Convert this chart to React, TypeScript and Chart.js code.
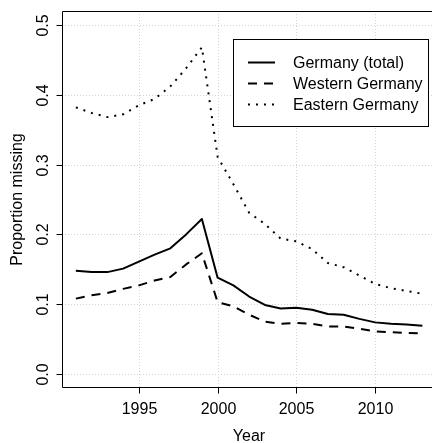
import { useEffect, useRef } from "react";
import { Chart, registerables } from "chart.js";

Chart.register(...registerables);

const years = [
  1991, 1992, 1993, 1994, 1995, 1996, 1997, 1998, 1999, 2000, 2001, 2002,
  2003, 2004, 2005, 2006, 2007, 2008, 2009, 2010, 2011, 2012, 2013,
];
const germanyTotal = [
  0.148, 0.146, 0.146, 0.151, 0.161, 0.171, 0.18, 0.2, 0.222, 0.138, 0.127,
  0.111, 0.099, 0.094, 0.095, 0.092, 0.086, 0.085, 0.079, 0.074, 0.072, 0.071,
  0.069,
];
const westernGermany = [
  0.108, 0.113, 0.116, 0.122, 0.127, 0.134, 0.139, 0.157, 0.173, 0.103, 0.097,
  0.085, 0.075, 0.072, 0.073, 0.072, 0.068, 0.068, 0.065, 0.061, 0.06, 0.059,
  0.058,
];
const easternGermany = [
  0.382, 0.374, 0.368, 0.372, 0.385, 0.394, 0.412, 0.438, 0.468, 0.311, 0.272,
  0.231, 0.215, 0.194, 0.19, 0.179, 0.159, 0.153, 0.141, 0.129, 0.123, 0.119,
  0.115,
];
const seriesNames = ["Germany (total)", "Western Germany", "Eastern Germany"];
const xTicks = [1995, 2000, 2005, 2010];
const yTicks = [0, 0.1, 0.2, 0.3, 0.4, 0.5];
const yTickLabels = ["0.0", "0.1", "0.2", "0.3", "0.4", "0.5"];
const xTitle = "Year";
const yTitle = "Proportion missing";

const FONT = '16px "Liberation Sans", Arial, Helvetica, sans-serif';
const dashes: number[][] = [[], [9, 7], [2, 6]];

const basePlot = {
  id: "basePlot",
  beforeDatasetsDraw(chart: any) {
    const { ctx, chartArea: a, scales } = chart;
    ctx.save();
    ctx.strokeStyle = "#d3d3d3";
    ctx.lineWidth = 1;
    ctx.setLineDash([1, 2]);
    for (const t of xTicks) {
      const px = Math.round(scales.x.getPixelForValue(t)) + 0.5;
      ctx.beginPath();
      ctx.moveTo(px, a.top);
      ctx.lineTo(px, a.bottom);
      ctx.stroke();
    }
    for (const t of yTicks) {
      const py = Math.round(scales.y.getPixelForValue(t)) + 0.5;
      ctx.beginPath();
      ctx.moveTo(a.left, py);
      ctx.lineTo(a.right, py);
      ctx.stroke();
    }
    ctx.restore();
  },
  afterDatasetsDraw(chart: any) {
    const { ctx, chartArea: a, scales } = chart;
    ctx.save();
    ctx.setLineDash([]);
    ctx.strokeStyle = "#000";
    ctx.fillStyle = "#000";
    ctx.lineWidth = 1;

    // plot frame (the right side lies past the canvas edge)
    const L = Math.round(a.left) + 0.5;
    const T = Math.round(a.top) + 0.5;
    const B = Math.round(a.bottom) - 0.5;
    ctx.beginPath();
    ctx.moveTo(a.right, T);
    ctx.lineTo(L, T);
    ctx.lineTo(L, B);
    ctx.lineTo(a.right, B);
    ctx.stroke();

    ctx.font = FONT;

    // x axis ticks and labels
    ctx.textAlign = "center";
    ctx.textBaseline = "alphabetic";
    for (const t of xTicks) {
      const px = Math.round(scales.x.getPixelForValue(t)) + 0.5;
      ctx.beginPath();
      ctx.moveTo(px, B);
      ctx.lineTo(px, B + 6);
      ctx.stroke();
      ctx.fillText(String(t), px, 414);
    }
    ctx.fillText(xTitle, 249, 441);

    // y axis ticks and rotated labels
    yTicks.forEach((t, i) => {
      const py = Math.round(scales.y.getPixelForValue(t)) + 0.5;
      ctx.beginPath();
      ctx.moveTo(L - 6, py);
      ctx.lineTo(L, py);
      ctx.stroke();
      ctx.save();
      ctx.translate(48, py);
      ctx.rotate(-Math.PI / 2);
      ctx.fillText(yTickLabels[i], 0, 0);
      ctx.restore();
    });
    ctx.save();
    ctx.translate(21.5, (a.top + a.bottom) / 2);
    ctx.rotate(-Math.PI / 2);
    ctx.fillText(yTitle, 0, 0);
    ctx.restore();

    // legend
    const bx = 233.5, by = 39.5, bw = 195, bh = 87;
    ctx.fillStyle = "#fff";
    ctx.fillRect(bx, by, bw, bh);
    ctx.strokeRect(bx, by, bw, bh);
    ctx.fillStyle = "#000";
    ctx.textAlign = "left";
    ctx.textBaseline = "middle";
    const rows = [62.5, 83.5, 104.5];
    seriesNames.forEach((name, i) => {
      ctx.save();
      ctx.lineWidth = 2;
      ctx.lineCap = "butt";
      ctx.setLineDash(dashes[i]);
      ctx.beginPath();
      ctx.moveTo(248, rows[i]);
      ctx.lineTo(275, rows[i]);
      ctx.stroke();
      ctx.restore();
      ctx.fillText(name, 293, rows[i] + 1);
    });
    ctx.restore();
  },
};

export default function App() {
  const ref = useRef<HTMLCanvasElement>(null);

  useEffect(() => {
    document.body.style.margin = "0";
    const canvas = ref.current;
    if (!canvas) return;
    const series = [germanyTotal, westernGermany, easternGermany];
    const chart = new Chart(canvas, {
      type: "line",
      data: {
        datasets: series.map((vals, i) => ({
          label: seriesNames[i],
          data: years.map((yr, j) => ({ x: yr, y: vals[j] })),
          borderColor: "#000",
          borderWidth: 2,
          borderDash: dashes[i],
          borderCapStyle: "butt" as const,
          borderJoinStyle: "round" as const,
          pointRadius: 0,
          tension: 0,
          fill: false,
        })),
      },
      options: {
        animation: false,
        responsive: false,
        devicePixelRatio: 1,
        layout: { padding: { left: 62, top: 11, right: 0, bottom: 55 } },
        scales: {
          x: { type: "linear", min: 1990.12, max: 2013.61, display: false },
          y: { type: "linear", min: -0.02, max: 0.52, display: false },
        },
        plugins: {
          legend: { display: false },
          tooltip: { enabled: false },
        },
      },
      plugins: [basePlot],
    });
    return () => chart.destroy();
  }, []);

  return (
    <div style={{ position: "absolute", left: 0, top: 0, width: 432, height: 443, background: "#fff" }}>
      <canvas ref={ref} width={432} height={443} style={{ display: "block" }} />
    </div>
  );
}
